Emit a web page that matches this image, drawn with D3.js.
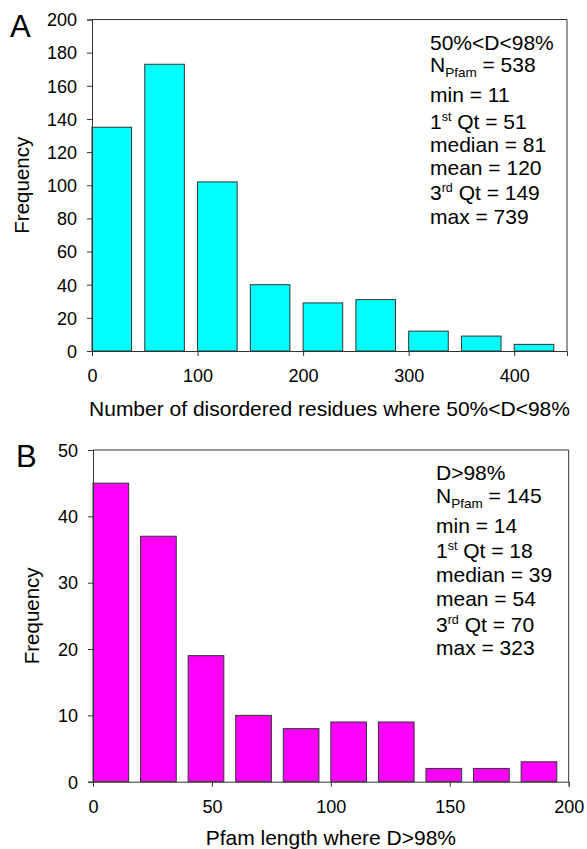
<!DOCTYPE html>
<html>
<head>
<meta charset="utf-8">
<script src="https://cdn.jsdelivr.net/npm/d3@7"></script>
<style>
  body { margin: 0; background: #fff; }
  svg { display: block; }
  text { font-family: "Liberation Sans", Arial, sans-serif; fill: #000; }
</style>
</head>
<body>
<svg id="chart" width="587" height="849"></svg>
<script>
// ---------- Data ----------
// Panel A: bins of 50 residues
const binStartsA = [0, 50, 100, 150, 200, 250, 300, 350, 400];
const freqA = [135, 173, 102, 40, 29, 31, 12, 9, 4];
const binWidthA = 50;
const xTicksA = [0, 100, 200, 300, 400];
const yTicksA = [0, 20, 40, 60, 80, 100, 120, 140, 160, 180, 200];
const xTitleA = "Number of disordered residues where 50%<D<98%";
const statsA = [
  [{t: "50%<D<98%"}],
  [{t: "N"}, {t: "Pfam", s: "sub"}, {t: " = 538"}],
  [{t: "min = 11"}],
  [{t: "1"}, {t: "st", s: "sup"}, {t: " Qt = 51"}],
  [{t: "median = 81"}],
  [{t: "mean = 120"}],
  [{t: "3"}, {t: "rd", s: "sup"}, {t: " Qt = 149"}],
  [{t: "max = 739"}]
];

// Panel B: bins of 20 residues
const binStartsB = [0, 20, 40, 60, 80, 100, 120, 140, 160, 180];
const freqB = [45, 37, 19, 10, 8, 9, 9, 2, 2, 3];
const binWidthB = 20;
const xTicksB = [0, 50, 100, 150, 200];
const yTicksB = [0, 10, 20, 30, 40, 50];
const xTitleB = "Pfam length where D>98%";
const statsB = [
  [{t: "D>98%"}],
  [{t: "N"}, {t: "Pfam", s: "sub"}, {t: " = 145"}],
  [{t: "min = 14"}],
  [{t: "1"}, {t: "st", s: "sup"}, {t: " Qt = 18"}],
  [{t: "median = 39"}],
  [{t: "mean = 54"}],
  [{t: "3"}, {t: "rd", s: "sup"}, {t: " Qt = 70"}],
  [{t: "max = 323"}]
];

const yTitle = "Frequency";

// ---------- Drawing ----------
const svg = d3.select("#chart");
const AXIS = "#333";
const FONT = '"Liberation Sans", Arial, sans-serif';

function panel(cfg) {
  const g = svg.append("g");
  const x = d3.scaleLinear().domain(cfg.xDomain).range([cfg.left, cfg.right]);
  const y = d3.scaleLinear().domain(cfg.yDomain).range([cfg.bottom, cfg.top]);

  // bars
  g.selectAll("rect.bar")
    .data(cfg.starts.map((s, i) => ({s, v: cfg.freq[i]})))
    .join("rect")
    .attr("class", "bar")
    .attr("x", d => x(d.s))
    .attr("y", d => y(d.v))
    .attr("width", d => x(d.s + cfg.binW * 0.75) - x(d.s))
    .attr("height", d => y(0) - y(d.v))
    .attr("fill", cfg.color)
    .attr("stroke", "#333")
    .attr("stroke-width", 1);

  // frame (top and right)
  g.append("path")
    .attr("d", `M${cfg.left},${cfg.top}H${cfg.right}V${cfg.bottom}`)
    .attr("fill", "none").attr("stroke", AXIS).attr("stroke-width", 1);

  // x axis
  const xa = g.append("g").attr("transform", `translate(0,${cfg.bottom})`)
    .call(d3.axisBottom(x).tickValues(cfg.xTicks).tickSize(5).tickFormat(d3.format("d")));
  xa.select(".domain").attr("stroke", AXIS);
  xa.selectAll(".tick line").attr("stroke", AXIS);
  xa.selectAll(".tick text").attr("y", 31).attr("dy", 0)
    .style("font-size", "18px").style("font-family", FONT).attr("fill", "#000");

  // y axis
  const ya = g.append("g").attr("transform", `translate(${cfg.left},0)`)
    .call(d3.axisLeft(y).tickValues(cfg.yTicks).tickSize(5).tickPadding(10).tickFormat(d3.format("d")));
  ya.select(".domain").attr("stroke", AXIS);
  ya.selectAll(".tick line").attr("stroke", AXIS);
  ya.selectAll(".tick text").attr("dy", "0.35em")
    .style("font-size", "18px").style("font-family", FONT).attr("fill", "#000");

  // axis titles
  g.append("text")
    .attr("x", (cfg.left + cfg.right) / 2).attr("y", cfg.xTitleY)
    .attr("text-anchor", "middle").style("font-size", "21px")
    .text(cfg.xTitle);
  g.append("text")
    .attr("transform", `translate(${cfg.yTitleX},${(cfg.top + cfg.bottom) / 2}) rotate(-90)`)
    .attr("text-anchor", "middle").style("font-size", "20.5px")
    .text(yTitle);

  // panel letter
  g.append("text").attr("x", cfg.letterX).attr("y", cfg.letterY)
    .style("font-size", "31px").text(cfg.letter);

  // stats
  cfg.stats.forEach((line, i) => {
    const t = g.append("text")
      .attr("x", cfg.statX).attr("y", cfg.top + cfg.statOff[i])
      .style("font-size", "21px");
    line.forEach((seg, j) => {
      const sp = t.append("tspan").text(seg.t);
      if (seg.s === "sub") sp.style("font-size", "13.5px").attr("dy", 5);
      else if (seg.s === "sup") sp.style("font-size", "12.5px").attr("dy", -8);
      else if (j > 0 && line[j - 1].s) sp.attr("dy", line[j - 1].s === "sub" ? -5 : 8);
    });
  });
}

panel({
  left: 92, right: 567, top: 19.5, bottom: 351,
  xDomain: [0, 450], yDomain: [0, 200],
  starts: binStartsA, freq: freqA, binW: binWidthA, color: "#00FFFF",
  xTicks: xTicksA, yTicks: yTicksA,
  xTitle: xTitleA, xTitleY: 416, yTitleX: 29,
  letter: "A", letterX: 10, letterY: 37,
  stats: statsA, statX: 430,
  statOff: [30, 52, 82, 109, 132, 155.5, 180.5, 204.5]
});

panel({
  left: 93, right: 568.7, top: 450, bottom: 781.7,
  xDomain: [0, 200], yDomain: [0, 50],
  starts: binStartsB, freq: freqB, binW: binWidthB, color: "#FF00FF",
  xTicks: xTicksB, yTicks: yTicksB,
  xTitle: xTitleB, xTitleY: 845, yTitleX: 39,
  letter: "B", letterX: 16, letterY: 467,
  stats: statsB, statX: 436,
  statOff: [30, 53, 83, 108, 132, 156, 182, 205]
});
</script>
</body>
</html>
